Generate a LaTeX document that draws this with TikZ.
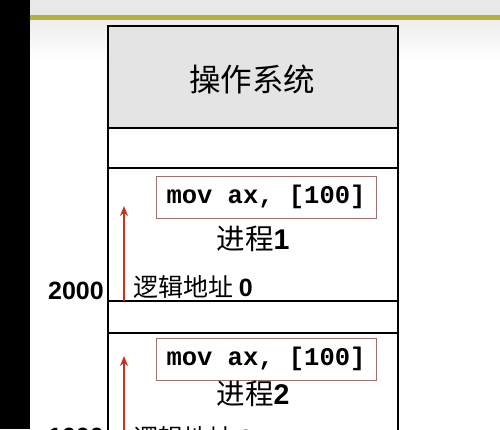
\documentclass[tikz,border=0pt]{standalone}
\usepackage{fontspec}
\setmainfont{Liberation Sans}
\setmonofont{Liberation Mono}
\newfontfamily\cjk{Noto Sans CJK SC}
\usetikzlibrary{arrows.meta}
\definecolor{olive}{HTML}{B4B040}
\definecolor{osgray}{HTML}{E4E4E4}
\definecolor{boxred}{HTML}{A07070}
\definecolor{arrred}{HTML}{C8321E}

\begin{document}
\begin{tikzpicture}[x=1pt, y=-1pt,
    mem/.style={line width=2.8pt},
    codebox/.style={draw=boxred, line width=0.8pt, fill=white, minimum width=220pt, minimum height=42pt, inner sep=0pt, font=\ttfamily\bfseries\fontsize{25.5}{25.5}\selectfont},
    addrarrow/.style={arrred, line width=1.8pt, -{Stealth[length=10pt, width=8pt]}},
    lbl/.style={inner sep=0pt, font=\cjk\fontsize{25}{25}\selectfont},
    base/.style={inner sep=0pt, anchor=east, font=\bfseries\fontsize{25}{25}\selectfont}]
            \useasboundingbox (0,0) rectangle (500,429);
            \clip (0,0) rectangle (500,429);
            % slide background
            \fill[white] (0,0) rectangle (500,429);
            \fill[gray!18] (30,0) rectangle (500,15);
            \shade[top color=gray!14, bottom color=white] (30,20) rectangle (500,60);
            \fill[olive] (30,15) rectangle (500,20);
            \fill[black] (0,0) rectangle (30,429);
            % memory column
            \fill[osgray] (108,26) rectangle (398,128);
            \draw[mem] (108,440) -- (108,26) -- (398,26) -- (398,440);
            \foreach \y in {128,168,301,333}
                \draw[mem] (108,\y) -- (398,\y);
            \node[font=\cjk\fontsize{31.5}{31.5}\selectfont] (os) at (252,79) {操作系统};
            % process 1
            \node[codebox] (code1) at (266,197) {mov ax, [100]};
            \node[font=\cjk\fontsize{28.5}{28.5}\selectfont] (proc1) at (253,239) {进程{\rmfamily\bfseries 1}};
            \node[lbl, anchor=west] (addr1) at (133,287) {逻辑地址 {\rmfamily\bfseries 0}};
            \node[base] (base1) at (104,291) {2000};
            \coordinate (arr1bot) at (124,301);
            \coordinate (arr1top) at (124,206);
            \draw[addrarrow] (arr1bot) -- (arr1top);
            % process 2
            \node[codebox] (code2) at (266,359) {mov ax, [100]};
            \node[font=\cjk\fontsize{28.5}{28.5}\selectfont] (proc2) at (253,394) {进程{\rmfamily\bfseries 2}};
            \node[lbl, anchor=west] (addr2) at (133,438) {逻辑地址 {\rmfamily\bfseries 0}};
            \node[base] (base2) at (104,437) {1000};
            \coordinate (arr2bot) at (124,440);
            \coordinate (arr2top) at (124,356);
            \draw[addrarrow] (arr2bot) -- (arr2top);
        \end{tikzpicture}
\end{document}
